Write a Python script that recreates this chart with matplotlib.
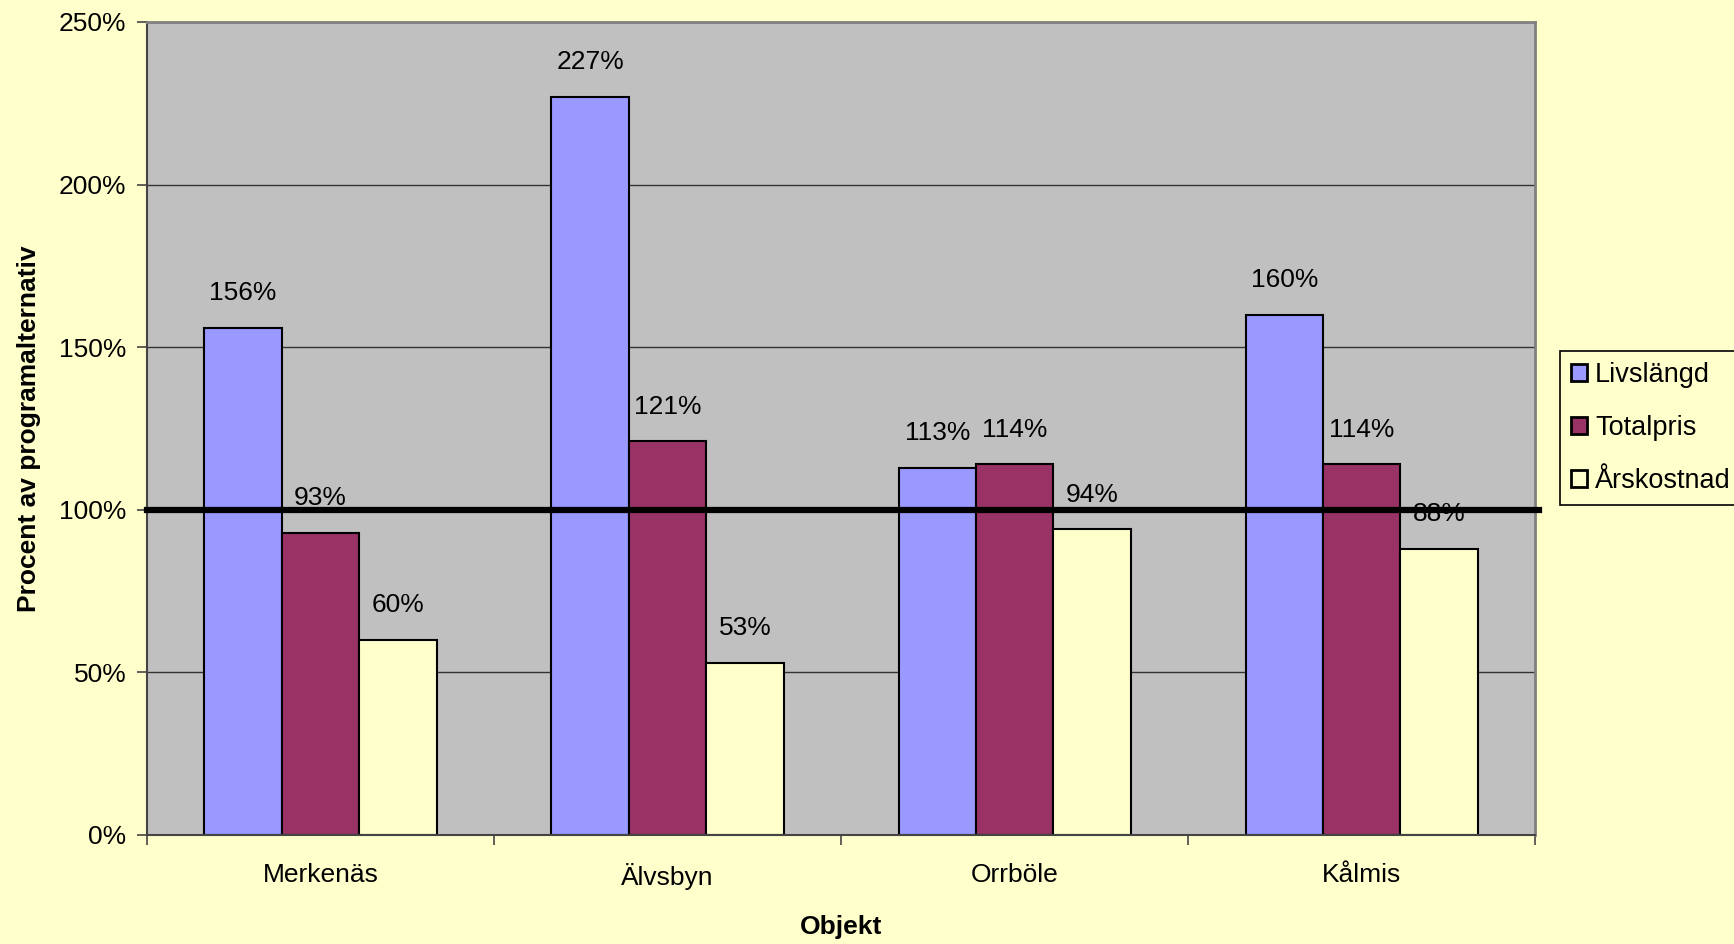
import numpy as np
import matplotlib.pyplot as plt
from matplotlib.ticker import FuncFormatter

plt.rcParams['font.family'] = ['Liberation Sans', 'DejaVu Sans']

objekt = ['Merkenäs', 'Älvsbyn', 'Orrböle', 'Kålmis']
serier = ['Livslängd', 'Totalpris', 'Årskostnad']
livslangd = [156, 227, 113, 160]
totalpris = [93, 121, 114, 114]
arskostnad = [60, 53, 94, 88]
farger = ['#9999FF', '#993366', '#FFFFCC']

fig = plt.figure(figsize=(17.34, 9.44), dpi=100, facecolor='#FFFFCC')
ax = fig.add_axes([0.0848, 0.1155, 0.8005, 0.8612])
ax.set_facecolor('#C0C0C0')

x = np.arange(len(objekt))
w = 0.223
for i, (vals, namn) in enumerate(zip([livslangd, totalpris, arskostnad], serier)):
    bars = ax.bar(x + (i - 1) * w, vals, w, color=farger[i], edgecolor='black',
                  linewidth=1.5, label=namn, zorder=2)
    for b, v in zip(bars, vals):
        ax.annotate(f'{v}%', (b.get_x() + b.get_width() / 2, v), xytext=(0, 25),
                    textcoords='offset points', ha='center', va='center',
                    fontsize=19, zorder=4)

ax.axhline(100, xmin=0, xmax=1.003, color='black', linewidth=4.5, zorder=3, clip_on=False)

ax.set_xlim(-0.5, 3.5)
ax.set_ylim(0, 250)
ax.set_yticks(range(0, 251, 50))
ax.yaxis.set_major_formatter(FuncFormatter(lambda v, p: f'{int(v)}%'))
ax.yaxis.grid(True, color='#333333', linewidth=1)
ax.set_axisbelow(True)

ax.set_xticks(x)
ax.set_xticklabels(objekt)
ax.set_xticks(np.arange(-0.5, 3.6, 1), minor=True)
ax.tick_params(axis='x', which='major', length=0, pad=20, labelsize=19)
ax.tick_params(axis='x', which='minor', length=7, width=1.2, color='#444444')
ax.tick_params(axis='y', length=7, width=1.2, pad=8, labelsize=19, color='#444444')

for s in ['top', 'right']:
    ax.spines[s].set_color('#808080')
    ax.spines[s].set_linewidth(2)
for s in ['left', 'bottom']:
    ax.spines[s].set_color('#444444')
    ax.spines[s].set_linewidth(1.5)

ax.set_ylabel('Procent av programalternativ', fontsize=19, fontweight='bold', labelpad=13)
ax.set_xlabel('Objekt', fontsize=19, fontweight='bold', labelpad=18)

leg = fig.legend(loc='center left', bbox_to_anchor=(0.8995, 0.5466), fontsize=19.5,
                 frameon=True, fancybox=False, edgecolor='black', facecolor='#FFFFCC',
                 handlelength=0.6, handleheight=0.6, handletextpad=0.3,
                 labelspacing=1.0, borderpad=0.4, borderaxespad=0.0, framealpha=1)
leg.get_frame().set_linewidth(1.2)
for h in leg.legend_handles:
    h.set_linewidth(2)

fig.savefig('out.png', dpi=100, facecolor=fig.get_facecolor())
